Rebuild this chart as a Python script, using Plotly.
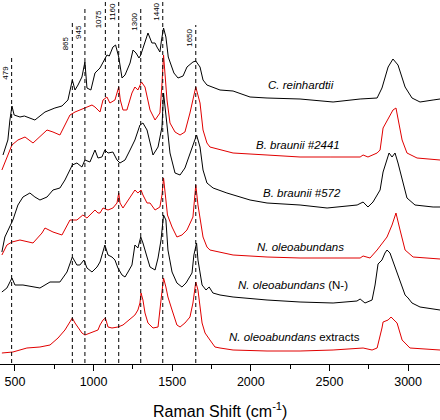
import plotly.graph_objects as go

# Raman spectra (wavenumber in cm^-1, stacked intensity in arbitrary units)
c_rein_x = [424,455,468,481,495,532,560,595,627,691,754,799,837,865,882,901,926,945,958,983,1009,1041,1065,1085,1100,1123,1140,1160,1181,1200,1232,1251,1270,1289,1300,1333,1346,1371,1391,1403,1422,1432,1445,1460,1475,1511,1537,1569,1594,1632,1650,1677,1696,1721,1740,1804,1887,1995,2103,2313,2523,2695,2803,2834,2873,2904,2936,2981,3025,3076,3159,3203]
c_rein_y = [209,224,244,258,249,247,248,246,244,252,256,258,264,284,274,279,287,302,276,274,291,296,304,309,308,317,319,307,286,289,301,314,311,306,309,326,331,321,321,317,312,324,336,327,307,291,286,288,297,302,303,297,284,279,278,274,273,267,266,265,262,265,266,276,297,305,299,277,266,262,264,265]

bb2441_x = [417,449,481,519,564,615,660,704,742,786,818,850,882,913,945,964,990,1009,1041,1060,1085,1104,1136,1160,1170,1187,1212,1244,1263,1282,1305,1327,1359,1391,1422,1435,1445,1467,1486,1518,1550,1581,1613,1650,1677,1696,1721,1740,1887,2103,2313,2504,2695,2714,2745,2803,2822,2841,2873,2904,2923,2936,2962,2993,3057,3203]
bb2441_y = [194,207,219,224,227,221,228,234,232,229,239,249,252,254,256,257,259,257,252,264,267,261,264,277,264,254,254,271,277,274,282,277,254,244,251,280,309,264,241,232,229,232,251,277,261,234,221,217,211,209,207,207,207,209,207,211,214,236,246,254,256,244,224,211,206,204]

bb572_x = [417,436,487,519,551,595,627,659,704,742,786,818,865,894,926,945,977,1009,1028,1053,1072,1092,1123,1149,1168,1200,1232,1263,1295,1314,1340,1359,1378,1410,1435,1445,1467,1486,1518,1550,1581,1613,1645,1655,1677,1696,1721,1740,1760,1848,1995,2103,2313,2485,2676,2714,2745,2777,2822,2841,2866,2879,2898,2917,2936,2962,2993,3044,3159,3203]
bb572_y = [112,127,144,159,167,171,167,164,167,174,176,184,199,201,197,204,202,214,206,207,214,211,212,204,201,204,214,224,239,241,234,221,209,217,237,271,241,211,191,189,196,211,224,229,217,194,181,179,176,171,164,161,159,156,159,162,157,162,174,192,204,211,207,211,201,184,166,159,157,157]

noleo_x = [417,449,481,532,615,672,691,742,799,831,850,894,932,958,1009,1028,1041,1060,1092,1123,1149,1160,1168,1187,1232,1263,1282,1302,1314,1340,1359,1391,1422,1435,1445,1455,1470,1499,1530,1562,1594,1632,1650,1664,1677,1696,1721,1740,1887,2103,2313,2523,2695,2714,2758,2803,2866,2898,2923,2949,2981,3032,3203]
noleo_y = [109,119,122,124,121,131,136,132,129,139,144,144,149,146,154,151,151,156,154,156,161,171,161,156,167,174,171,174,169,161,161,154,157,169,186,169,149,137,127,129,134,147,179,159,144,127,117,114,109,107,106,106,106,108,106,114,127,139,151,134,114,107,105]

nminus_x = [417,449,481,500,551,615,659,723,786,831,865,894,913,939,958,990,1022,1041,1072,1092,1117,1136,1155,1181,1200,1219,1244,1263,1282,1300,1314,1340,1359,1391,1410,1429,1445,1460,1473,1499,1530,1562,1588,1626,1638,1655,1664,1690,1715,1735,1759,1804,1887,2103,2313,2523,2675,2695,2726,2771,2790,2809,2834,2853,2866,2885,2917,2949,2981,3000,3025,3076,3203]
nminus_y = [72,76,86,79,79,77,76,82,82,92,107,99,99,104,96,92,97,102,119,109,107,104,96,89,87,92,99,119,116,127,121,107,97,94,106,124,149,144,114,92,81,77,81,91,109,121,104,79,74,77,71,69,67,64,62,61,63,65,61,64,79,100,104,111,114,111,97,81,69,66,61,57,54]

extr_x = [417,487,576,659,723,774,818,865,882,926,945,977,1028,1041,1060,1075,1092,1117,1155,1187,1212,1244,1263,1282,1295,1302,1314,1327,1346,1378,1410,1429,1445,1460,1473,1499,1530,1550,1581,1613,1632,1650,1664,1690,1709,1740,1772,1804,1887,2103,2313,2523,2675,2714,2771,2803,2834,2841,2873,2892,2904,2930,2962,3012,3203]
extr_y = [11,12,16,17,19,26,34,46,41,31,29,31,34,39,44,46,37,36,37,39,42,46,49,54,61,71,64,51,41,36,37,64,86,77,67,54,39,37,41,47,61,82,74,41,31,24,17,16,14,13,13,14,15,16,14,16,36,42,44,47,45,41,24,16,14]

series_names = ["C. reinhardtii", "B. braunii #2441", "B. braunii #572",
                "N. oleoabundans", "N. oleoabundans (N-)", "N. oleoabundans extracts"]
series_colors = ["black", "rgb(225,0,0)", "black", "rgb(225,0,0)", "black", "rgb(225,0,0)"]
series_x = [c_rein_x, bb2441_x, bb572_x, noleo_x, nminus_x, extr_x]
series_y = [c_rein_y, bb2441_y, bb572_y, noleo_y, nminus_y, extr_y]

# series labels
label_text = ["<i>C. reinhardtii</i>", "<i>B. braunii #2441</i>", "<i>B. braunii #572</i>",
              "<i>N. oleoabundans</i>", "<i>N. oleoabundans</i> (N-)", "<i>N. oleoabundans</i> extracts"]
label_x = [2319, 2300, 2326, 2313, 2268, 2275]
label_y = [279, 219, 171, 117, 79, 27]

# marked band positions
band_pos = [479, 865, 945, 1075, 1160, 1300, 1440, 1650]
band_top = [306, 344, 355, 364, 364, 357, 364, 339]
band_label_y = [291, 321, 332, 345, 352, 342, 352, 326]

fig = go.Figure()
for xs, ys, nm, col in zip(series_x, series_y, series_names, series_colors):
    fig.add_trace(go.Scatter(x=xs, y=ys, mode="lines", name=nm,
                             line=dict(color=col, width=1)))

for p, top, ly in zip(band_pos, band_top, band_label_y):
    fig.add_shape(type="line", xref="x", yref="y", x0=p, x1=p, y0=1, y1=top,
                  line=dict(color="black", width=1, dash="4px,3px"))
    fig.add_annotation(x=p, y=ly, xref="x", yref="y", text=str(p), showarrow=False,
                       textangle=-90, xshift=-7, xanchor="center", yanchor="middle",
                       font=dict(size=8, color="black", family="Liberation Sans, Arial"))

for t, x, y in zip(label_text, label_x, label_y):
    fig.add_annotation(x=x, y=y, xref="x", yref="y", text=t, showarrow=False,
                       xanchor="center", yanchor="middle",
                       font=dict(size=11.5, color="black", family="Liberation Sans, Arial"))

fig.add_annotation(x=0.5, y=-0.127, xref="paper", yref="paper",
                   text="Raman Shift (cm<sup>-1</sup>)", showarrow=False,
                   xanchor="center", yanchor="middle",
                   font=dict(size=16, color="black", family="Liberation Sans, Arial"))

fig.update_layout(
    width=440, height=420,
    margin=dict(l=0, r=0, t=0, b=56),
    paper_bgcolor="white", plot_bgcolor="white",
    showlegend=False,
    xaxis=dict(range=[405, 3203], tickmode="linear", tick0=500, dtick=500,
               showgrid=False, zeroline=False, showline=True, linecolor="black",
               linewidth=1, ticks="outside", ticklen=6, tickcolor="black",
               tickfont=dict(size=12.5, color="black", family="Liberation Sans, Arial"),
               minor=dict(ticks="outside", ticklen=4, dtick=250, tick0=500,
                          tickcolor="black", showgrid=False)),
    yaxis=dict(range=[0, 364], visible=False),
)

fig.write_html("out.html", config={"displayModeBar": False},
               post_script="document.body.style.margin='0';document.body.style.padding='0';")
